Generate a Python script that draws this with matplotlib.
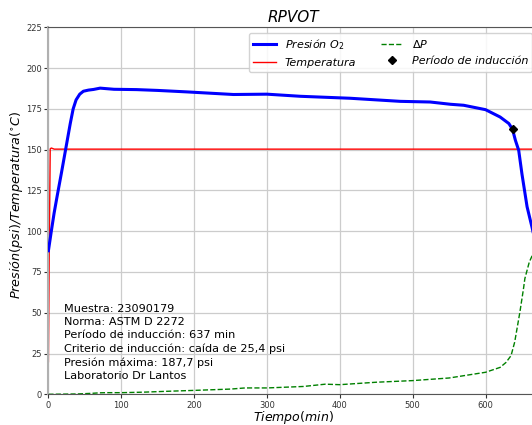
import matplotlib
matplotlib.use("Agg")
import matplotlib.pyplot as plt

# === Data ===
t_pres = [0, 4, 7.8, 12, 18, 24, 30, 34, 38, 43, 48, 55, 62, 71, 90, 121, 150, 190,
          254, 300, 346, 414, 483, 524, 552, 570, 600, 620, 632, 637, 641, 645.5,
          650, 657, 664, 670]
presion = [88, 100, 111, 121.5, 136, 151, 166, 175, 180.5, 184, 185.8, 186.5, 186.9,
           187.7, 187, 186.8, 186.3, 185.4, 183.8, 184, 182.7, 181.5, 179.6, 179.2,
           177.8, 177.2, 174.5, 170, 166, 162.5, 155.7, 149.6, 135, 115, 102, 90]

t_temp = [0, 1.2, 2.5, 4, 8, 670]
temperatura = [20, 90, 150.5, 151, 150.3, 150.3]

t_dp = [0, 20, 40, 60, 70, 80, 100, 130, 160, 200, 250, 270, 300, 350, 380, 400,
        450, 500, 550, 570, 600, 610, 620, 628, 635, 640, 647, 652, 654, 660, 664, 670]
delta_p = [0, 0.1, 0.2, 0.6, 0.9, 1.0, 1.0, 1.3, 1.8, 2.4, 3.2, 3.9, 3.9, 4.8, 6.2,
           5.9, 7.4, 8.4, 10, 11.4, 13.5, 15, 16.5, 19.5, 23.7, 32, 50, 64.5, 71, 81,
           85, 92]

t_induccion = [637]
p_induccion = [162.5]

info = ("Muestra: 23090179\n"
        "Norma: ASTM D 2272\n"
        "Período de inducción: 637 min\n"
        "Criterio de inducción: caída de 25,4 psi\n"
        "Presión máxima: 187,7 psi\n"
        "Laboratorio Dr Lantos")

# === Figure ===
fig = plt.figure(figsize=(5.32, 4.25), dpi=100)
ax = fig.add_axes([48.4 / 532, 30.7 / 425, (538 - 48.4) / 532, (394.3 - 27.3) / 425])

ax.plot(t_pres, presion, color="blue", lw=2.2, label="Presión $O_2$", zorder=3)
ax.plot(t_temp, temperatura, color="red", lw=1.0, label="Temperatura", zorder=2)
ax.plot(t_dp, delta_p, color="green", lw=1.0, ls="--", label=r"$\Delta P$", zorder=2)
ax.plot(t_induccion, p_induccion, "D", color="black", ms=4.5,
        label="Período de inducción", zorder=4)

ax.set_xlim(0, 672)
ax.set_ylim(0, 225)
ax.set_xticks(range(0, 700, 100))
ax.set_yticks(range(0, 226, 25))
ax.grid(True, color="#cccccc", lw=0.9)
ax.set_axisbelow(True)

ax.tick_params(labelsize=6, length=3, pad=1.5, colors="#333333")
for s in ["top", "bottom"]:
    ax.spines[s].set_color("#555555")
ax.spines["left"].set_color("#b0b0b0")
ax.spines["left"].set_linewidth(1.5)
ax.spines["right"].set_visible(False)

ax.set_title("RPVOT", fontsize=11, style="italic", pad=3.5)
ax.set_xlabel("Tiempo$(min)$", fontsize=9, style="italic", labelpad=-0.5)
ax.set_ylabel(r"Presión$(psi)$/Temperatura$(^{\circ}C)$", fontsize=9.2, style="italic")
ax.yaxis.set_label_coords(-0.048, 0.515)

ax.text(21, 8, info, fontsize=8.1, va="bottom", ha="left", linespacing=1.4)

ax.legend(loc="upper right", ncol=2, prop={"style": "italic", "size": 8},
          framealpha=0.85, columnspacing=2.2)

fig.savefig("out.png", dpi=100)
